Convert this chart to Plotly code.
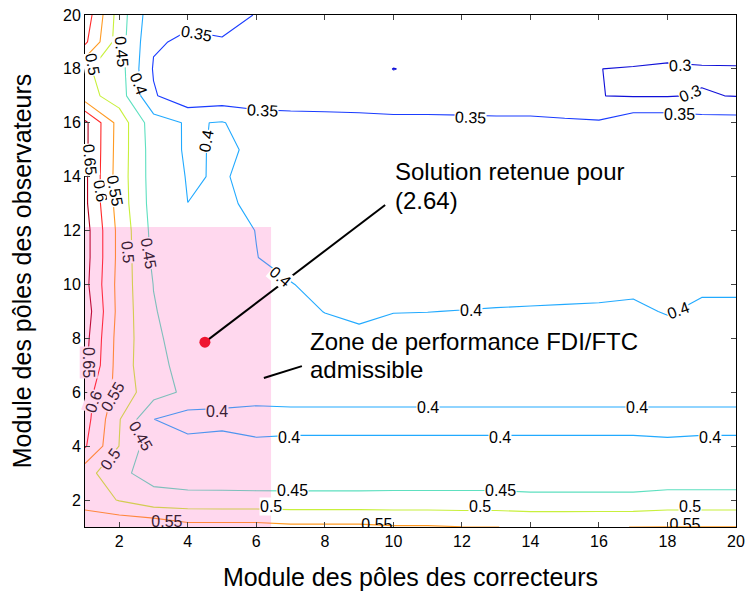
import plotly.graph_objects as go

# ---------------- data ----------------
x_grid = list(range(1, 21))   # Module des pôles des correcteurs
y_grid = list(range(1, 21))   # Module des pôles des observateurs

# criterion value on the grid, one row per y (y = 1 ... 20), columns x = 1 ... 20
z_rows = [
    [0.584, 0.593, 0.590, 0.5667, 0.5667, 0.5667, 0.5601, 0.5601, 0.5601, 0.5543, 0.5543, 0.5508, 0.5502, 0.548, 0.548, 0.5485, 0.5502, 0.5508, 0.5508, 0.5508],
    [0.530, 0.497, 0.468, 0.468, 0.467, 0.467, 0.467, 0.467, 0.467, 0.468, 0.468, 0.468, 0.468, 0.4638, 0.4638, 0.4638, 0.4638, 0.4702, 0.4702, 0.4702],
    [0.520, 0.460, 0.432, 0.420, 0.420, 0.418, 0.417, 0.417, 0.417, 0.417, 0.417, 0.417, 0.417, 0.417, 0.417, 0.417, 0.417, 0.417, 0.417, 0.417],
    [0.605, 0.499, 0.419, 0.4169, 0.422, 0.403, 0.404, 0.404, 0.404, 0.404, 0.404, 0.404, 0.404, 0.404, 0.404, 0.404, 0.404, 0.4029, 0.404, 0.404],
    [0.620, 0.503, 0.4005, 0.3794, 0.3833, 0.394, 0.394, 0.394, 0.394, 0.394, 0.394, 0.394, 0.394, 0.394, 0.394, 0.394, 0.394, 0.394, 0.394, 0.394],
    [0.623, 0.530, 0.470, 0.440, 0.425, 0.406, 0.4073, 0.4073, 0.4073, 0.4073, 0.4073, 0.4073, 0.4073, 0.4073, 0.4073, 0.4073, 0.4073, 0.4073, 0.4073, 0.4073],
    [0.660, 0.526, 0.4626, 0.435, 0.420, 0.412, 0.409, 0.409, 0.409, 0.409, 0.409, 0.409, 0.409, 0.409, 0.409, 0.409, 0.409, 0.409, 0.409, 0.409],
    [0.667, 0.528, 0.463, 0.418, 0.413, 0.411, 0.410, 0.410, 0.4056, 0.410, 0.410, 0.409, 0.409, 0.409, 0.409, 0.409, 0.409, 0.410, 0.409, 0.409],
    [0.678, 0.533, 0.453, 0.426, 0.415, 0.410, 0.408, 0.3994, 0.395, 0.3993, 0.3997, 0.4005, 0.4014, 0.402, 0.4026, 0.4032, 0.4046, 0.3983, 0.4052, 0.4052],
    [0.665, 0.532, 0.449, 0.430, 0.420, 0.410, 0.401, 0.393, 0.390, 0.390, 0.390, 0.3905, 0.3914, 0.392, 0.3926, 0.3932, 0.3946, 0.390, 0.3952, 0.3952],
    [0.670, 0.535, 0.440, 0.425, 0.415, 0.4005, 0.392, 0.390, 0.389, 0.389, 0.389, 0.389, 0.389, 0.389, 0.389, 0.389, 0.390, 0.389, 0.390, 0.390],
    [0.670, 0.535, 0.435, 0.420, 0.410, 0.3995, 0.392, 0.390, 0.388, 0.388, 0.388, 0.388, 0.388, 0.388, 0.388, 0.387, 0.390, 0.389, 0.389, 0.389],
    [0.660, 0.527, 0.430, 0.4001, 0.410, 0.3887, 0.390, 0.388, 0.387, 0.387, 0.387, 0.387, 0.387, 0.387, 0.386, 0.386, 0.390, 0.389, 0.388, 0.388],
    [0.660, 0.525, 0.428, 0.3976, 0.4021, 0.393, 0.390, 0.388, 0.387, 0.386, 0.386, 0.386, 0.386, 0.386, 0.385, 0.385, 0.390, 0.390, 0.388, 0.388],
    [0.662, 0.527, 0.427, 0.394, 0.405, 0.395, 0.390, 0.388, 0.387, 0.386, 0.386, 0.385, 0.385, 0.385, 0.385, 0.384, 0.390, 0.390, 0.388, 0.388],
    [0.662, 0.529, 0.422, 0.395, 0.403, 0.374, 0.3696, 0.3674, 0.3647, 0.3612, 0.3612, 0.360, 0.3583, 0.3583, 0.355, 0.3555, 0.381, 0.381, 0.371, 0.371],
    [0.519, 0.4756, 0.355, 0.315, 0.320, 0.325, 0.325, 0.325, 0.325, 0.325, 0.325, 0.325, 0.325, 0.325, 0.325, 0.3006, 0.2975, 0.2975, 0.303, 0.2985],
    [0.507, 0.472, 0.346, 0.330, 0.330, 0.330, 0.330, 0.330, 0.330, 0.299, 0.310, 0.320, 0.320, 0.315, 0.308, 0.3005, 0.296, 0.290, 0.293, 0.294],
    [0.610, 0.473, 0.355, 0.343, 0.348, 0.340, 0.335, 0.335, 0.335, 0.335, 0.335, 0.335, 0.335, 0.335, 0.330, 0.345, 0.340, 0.335, 0.345, 0.345],
    [0.632, 0.476, 0.366, 0.360, 0.359, 0.349, 0.340, 0.340, 0.340, 0.340, 0.340, 0.340, 0.340, 0.340, 0.340, 0.340, 0.340, 0.340, 0.345, 0.345],
]

levels = [0.30, 0.35, 0.40, 0.45, 0.50, 0.55, 0.60, 0.65]
level_colors = ["#1010d8", "#1a3cff", "#22aaff", "#5ee0c0", "#c8f03c", "#ff9a22", "#ff2a2a", "#b0001e"]

# contour labels: text, x, y, angle, inside pink zone
label_text = ["0.35", "0.5", "0.45", "0.4", "0.35", "0.4", "0.65", "0.6", "0.55", "0.5", "0.45", "0.4",
              "0.4", "0.4", "0.35", "0.3", "0.3", "0.35", "0.65", "0.6", "0.55", "0.5", "0.45",
              "0.4", "0.4", "0.45", "0.5", "0.4", "0.4", "0.4", "0.4", "0.45", "0.5", "0.5"]
label_x = [4.24, 1.23, 2.08, 2.55, 6.17, 4.53, 1.15, 1.44, 1.88, 2.26, 2.84, 6.69,
           12.27, 18.31, 12.24, 18.37, 18.66, 18.34, 1.12, 1.26, 1.79, 1.73, 2.61,
           4.85, 6.95, 7.07, 6.43, 11.01, 17.11, 13.11, 19.24, 13.14, 12.53, 18.66]
label_y = [19.33, 18.18, 18.66, 17.44, 16.47, 15.32, 14.65, 13.47, 13.50, 11.20, 11.17, 10.28,
           9.05, 9.05, 16.21, 18.14, 17.10, 16.29, 7.12, 5.64, 5.82, 3.52, 4.38,
           5.30, 4.34, 2.34, 1.76, 5.45, 5.45, 4.34, 4.34, 2.34, 1.76, 1.76]
label_angle = [10, 80, 85, 70, 3, -80, 85, 80, 80, 85, 80, 40,
               0, -20, 2, -3, -22, 0, 90, -70, -60, -55, 60,
               0, 0, 0, 0, 0, 0, 0, 0, 0, 0, 0]
label_in_zone = [False, False, False, False, False, False, False, False, False, True, True, False,
                 False, False, False, False, False, False, True, True, True, True, True,
                 True, False, False, False, False, False, False, False, False, False, False]

# labels sitting on the bottom border (clipped by the axes)
edge_label_text = ["0.55", "0.55", "0.55"]
edge_label_x = [3.39, 9.52, 18.51]
edge_label_y = [1.14, 1.05, 1.05]
edge_label_color = ["#3a2034", "black", "black"]

# admissible performance zone and retained solution
zone_x = [1, 6.43]
zone_y = [1, 12.13]
solution_x = 4.5
solution_y = 7.86
solution_text = ["Solution retenue pour", "(2.64)"]
zone_text = ["Zone de performance FDI/FTC", "admissible"]

# ---------------- figure ----------------
FONT = "Liberation Sans, Arial, Helvetica, sans-serif"
fig = go.Figure()

for lev, col in zip(levels, level_colors):
    fig.add_trace(go.Contour(
        x=x_grid, y=y_grid, z=z_rows,
        autocontour=False,
        contours=dict(start=lev, end=lev, size=0.05, coloring="none", showlabels=False),
        line=dict(color=col, width=1.1, smoothing=0),
        showscale=False, hoverinfo="skip", showlegend=False,
    ))

# pink zone (drawn over the contour lines, semi transparent)
fig.add_trace(go.Scatter(
    x=[zone_x[0], zone_x[1], zone_x[1], zone_x[0], zone_x[0]],
    y=[zone_y[0], zone_y[0], zone_y[1], zone_y[1], zone_y[0]],
    fill="toself", fillcolor="rgba(255,60,170,0.2)", line=dict(width=0),
    mode="lines", hoverinfo="skip", showlegend=False,
))

# clipped border labels
fig.add_trace(go.Scatter(
    x=edge_label_x, y=edge_label_y, mode="text", text=edge_label_text,
    textfont=dict(family=FONT, size=16, color=edge_label_color),
    cliponaxis=True, hoverinfo="skip", showlegend=False,
))

# pointer lines
fig.add_trace(go.Scatter(x=[solution_x, 9.76], y=[solution_y, 12.95], mode="lines",
                         line=dict(color="black", width=2), hoverinfo="skip", showlegend=False))
fig.add_trace(go.Scatter(x=[6.22, 7.33], y=[6.53, 6.97], mode="lines",
                         line=dict(color="black", width=2), hoverinfo="skip", showlegend=False))
# retained solution point
fig.add_trace(go.Scatter(x=[solution_x], y=[solution_y], mode="markers",
                         marker=dict(color="#ee1530", size=11), hoverinfo="skip", showlegend=False))

annotations = []
for t, lx, ly, ang, inz in zip(label_text, label_x, label_y, label_angle, label_in_zone):
    annotations.append(dict(
        x=lx, y=ly, xref="x", yref="y", text=t, showarrow=False, textangle=ang,
        font=dict(family=FONT, size=16, color="#3a2034" if inz else "black"),
        bgcolor="rgb(255,216,238)" if inz else "white", borderpad=0,
        xanchor="center", yanchor="middle",
    ))

for i, t in enumerate(solution_text):
    annotations.append(dict(x=10.0, y=14.2 - i * 1.07, xref="x", yref="y", text=t, showarrow=False,
                            xanchor="left", yanchor="middle", font=dict(family=FONT, size=24, color="black")))
for i, t in enumerate(zone_text):
    annotations.append(dict(x=7.5, y=7.9 - i * 1.05, xref="x", yref="y", text=t, showarrow=False,
                            xanchor="left", yanchor="middle", font=dict(family=FONT, size=24, color="black")))

fig.update_layout(
    width=746, height=591,
    margin=dict(l=85, r=10, t=15, b=64),
    paper_bgcolor="white", plot_bgcolor="white",
    font=dict(family=FONT, size=16, color="black"),
    annotations=annotations,
    showlegend=False,
    xaxis=dict(range=[1, 20], tickvals=list(range(2, 21, 2)), ticks="inside", ticklen=5,
               showline=True, linecolor="black", linewidth=1, mirror="ticks",
               showgrid=False, zeroline=False, tickfont=dict(size=16), automargin=False,
               ticklabeloverflow="allow",
               title=dict(text="Module des pôles des correcteurs", font=dict(size=25), standoff=31)),
    yaxis=dict(range=[1, 20], tickvals=list(range(2, 21, 2)), ticks="inside", ticklen=5,
               showline=True, linecolor="black", linewidth=1, mirror="ticks",
               showgrid=False, zeroline=False, tickfont=dict(size=16), automargin=False,
               ticklabeloverflow="allow",
               title=dict(text="Module des pôles des observateurs", font=dict(size=25), standoff=24)),
)

# remove the default page margin so the figure fills the 746 x 591 window exactly
fig.write_html("out.html", config={"displayModeBar": False},
               post_script="document.body.style.margin='0';document.body.style.overflow='hidden';")
